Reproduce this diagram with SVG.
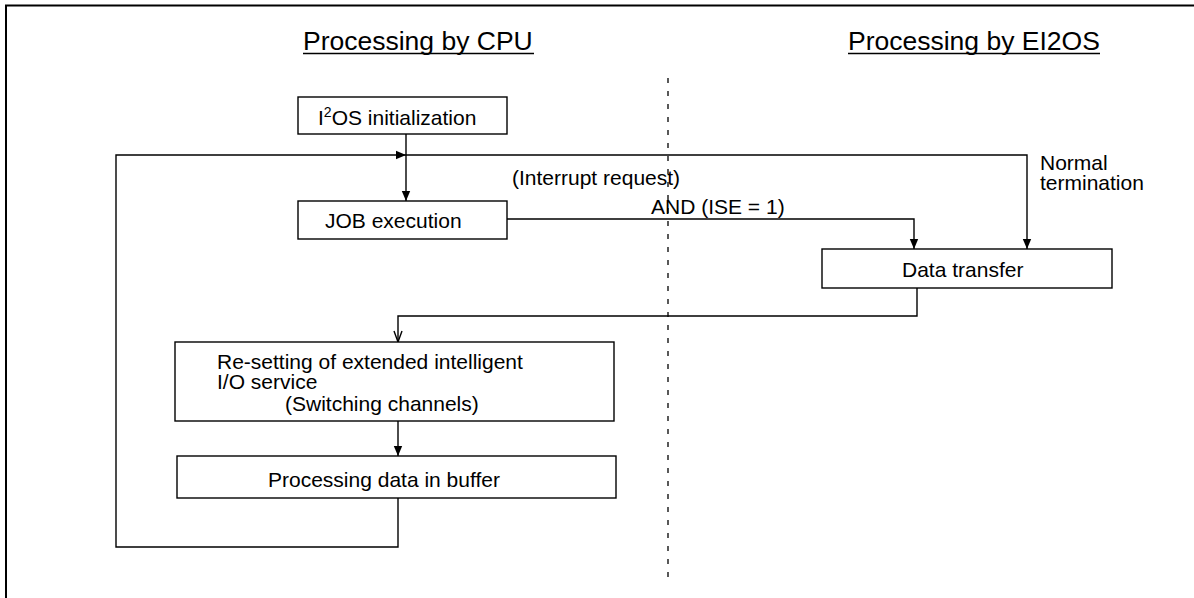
<svg xmlns="http://www.w3.org/2000/svg" width="1194" height="598" viewBox="0 0 1194 598">
<style>
text{font-family:"Liberation Sans",Arial,sans-serif;font-size:21px;fill:#000}
.title{font-size:26.5px}
.box{fill:#fff;stroke:#000;stroke-width:1.4}
.ln{fill:none;stroke:#000;stroke-width:1.4}
</style>
<defs>
<marker id="arr" markerWidth="10" markerHeight="10" viewBox="0 0 10 10" refX="10" refY="5" orient="auto" markerUnits="userSpaceOnUse">
<path d="M0,0.8 L10,5 L0,9.2 Z" fill="#000"/>
</marker>
</defs>
<rect width="1194" height="598" fill="#fff"/>
<g id="frame">
<path d="M6,598 V5.5 H1194" fill="none" stroke="#000" stroke-width="2"/>
</g>
<g id="divider">
<line x1="668" y1="78" x2="668" y2="578" stroke="#000" stroke-width="1.3" stroke-dasharray="5,8"/>
</g>
<g id="title-cpu">
<text class="title" x="303" y="50">Processing by CPU</text>
<line x1="303" y1="53.5" x2="534" y2="53.5" stroke="#000" stroke-width="1.3"/>
</g>
<g id="title-ei2os">
<text class="title" x="848" y="50">Processing by EI2OS</text>
<line x1="848" y1="53.5" x2="1100" y2="53.5" stroke="#000" stroke-width="1.3"/>
</g>
<g id="connectors">
<path class="ln" d="M406,134 V201" marker-end="url(#arr)"/>
<path class="ln" d="M398,498 V547 H116 V155 H406" marker-end="url(#arr)"/>
<path class="ln" d="M406,155 H1027 V249" marker-end="url(#arr)"/>
<path class="ln" d="M507,219 H914 V249" marker-end="url(#arr)"/>
<path class="ln" d="M917,288 V316 H398 V342"/>
<path class="ln" d="M394,331 L398,342 L402,331"/>
<path class="ln" d="M398,421 V456" marker-end="url(#arr)"/>
</g>
<g id="node-i2os">
<rect class="box" x="298" y="97" width="209" height="37"/>
<text x="318" y="125">I<tspan font-size="14" dy="-8">2</tspan><tspan dy="8">OS initialization</tspan></text>
</g>
<g id="node-job">
<rect class="box" x="298" y="201" width="209" height="38"/>
<text x="325" y="228">JOB execution</text>
</g>
<g id="node-data-transfer">
<rect class="box" x="822" y="249" width="290" height="39"/>
<text x="902" y="277">Data transfer</text>
</g>
<g id="node-resetting">
<rect class="box" x="175" y="342" width="439" height="79"/>
<text x="217" y="369">Re-setting of extended intelligent</text>
<text x="217" y="389">I/O service</text>
<text x="285" y="411">(Switching channels)</text>
</g>
<g id="node-buffer">
<rect class="box" x="177" y="456" width="439" height="42"/>
<text x="268" y="487">Processing data in buffer</text>
</g>
<g id="labels">
<text x="512" y="185">(Interrupt request)</text>
<text x="651" y="214">AND (ISE = 1)</text>
<text x="1040" y="170">Normal</text>
<text x="1040" y="190">termination</text>
</g>
</svg>
